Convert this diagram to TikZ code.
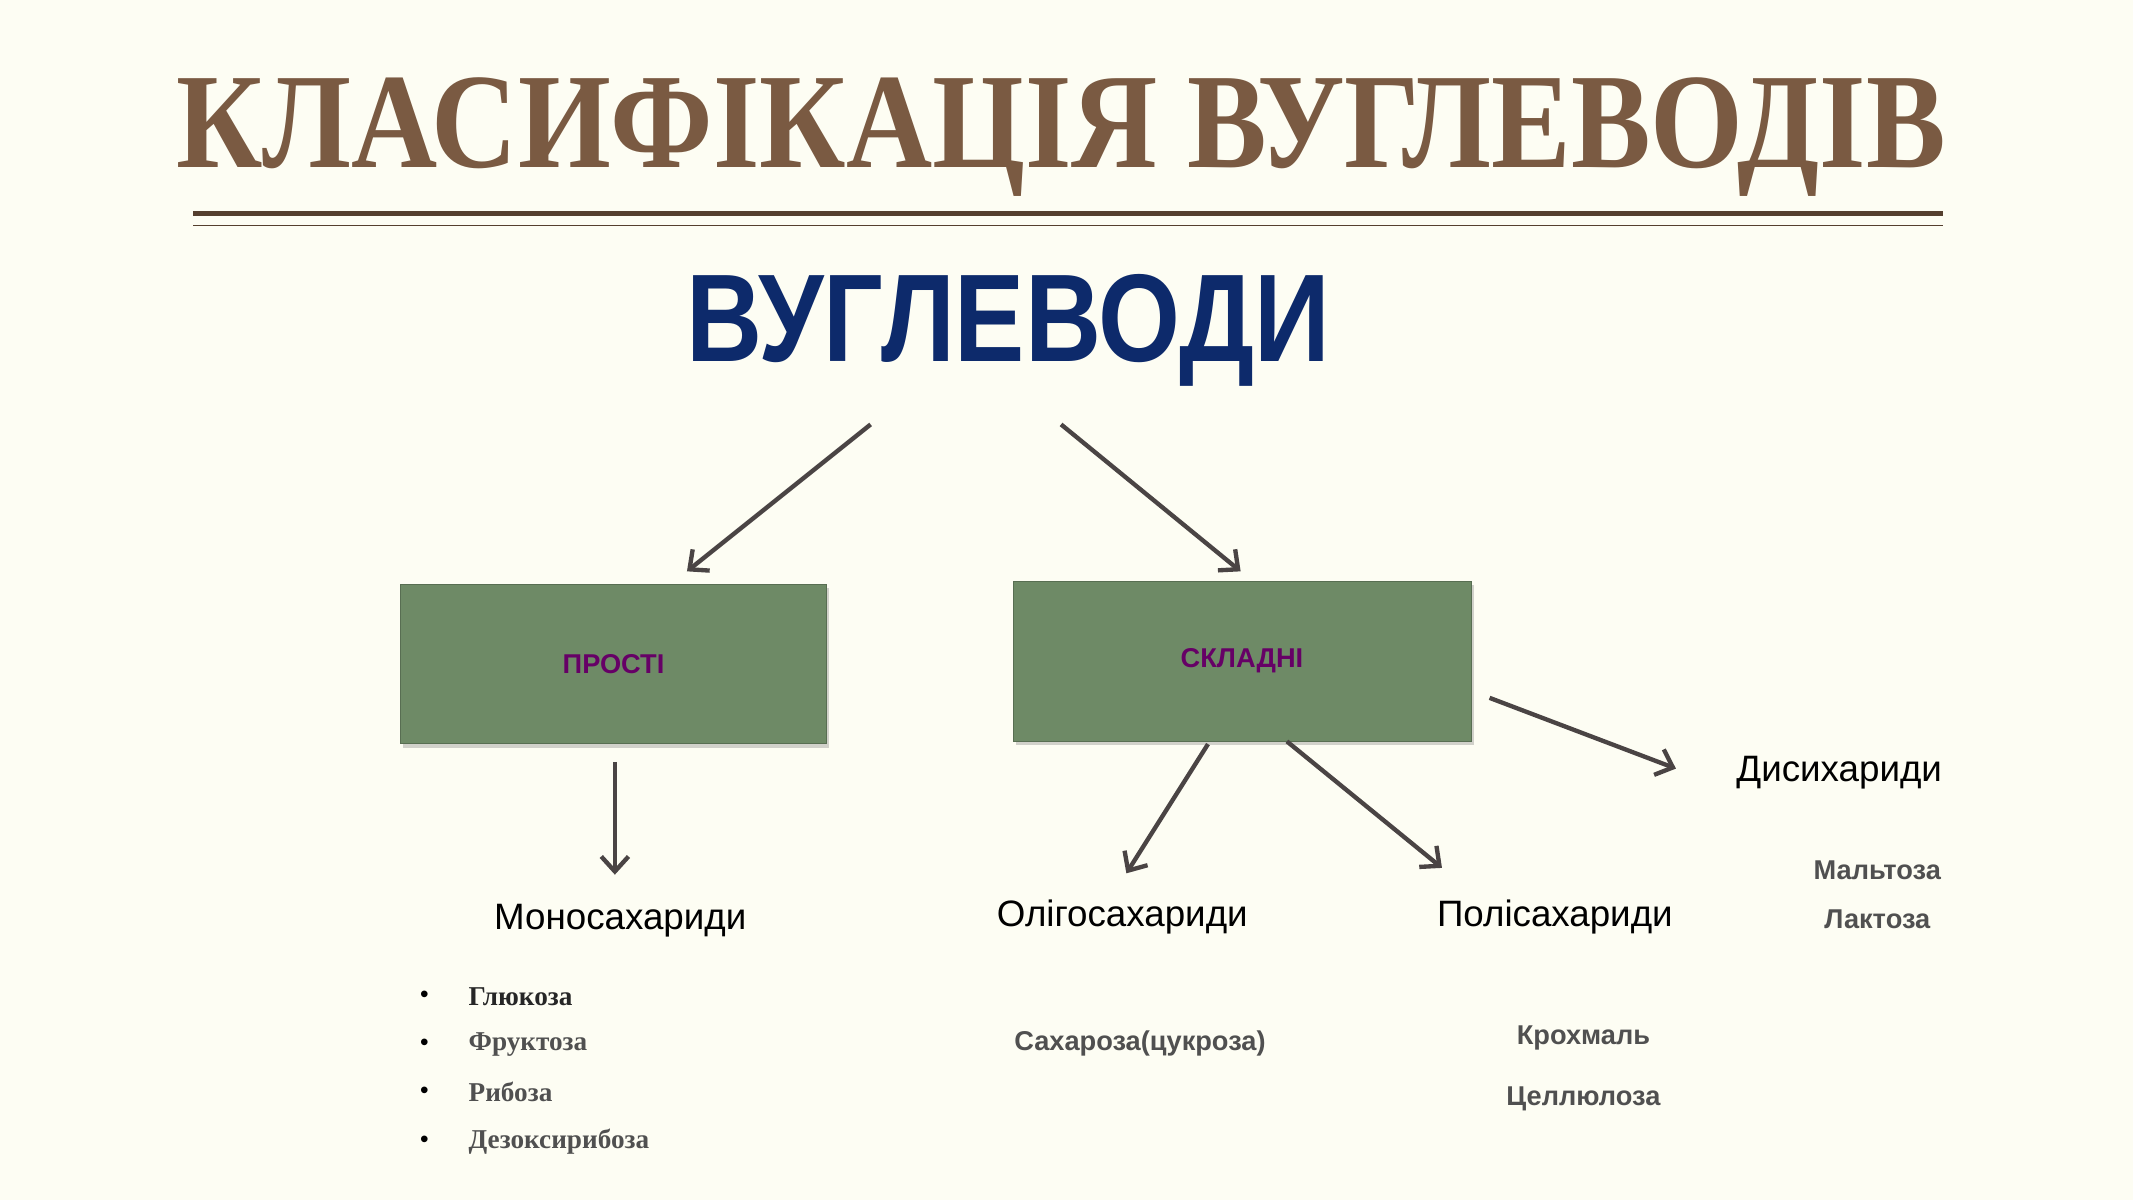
\documentclass[tikz,border=0pt]{standalone}
\usepackage{fontspec}
\setmainfont{Liberation Sans}
\newfontfamily\serifb{Liberation Serif}
\usetikzlibrary{arrows.meta,shadows}
\definecolor{bg}{HTML}{FDFDF3}
\definecolor{brownt}{HTML}{7A5A42}
\definecolor{navy}{HTML}{0D2A6B}
\definecolor{boxg}{HTML}{6E8A66}
\definecolor{purp}{HTML}{660066}
\definecolor{greyt}{HTML}{505050}
\definecolor{arr}{HTML}{4A4444}
\tikzset{
 conn/.style={draw=arr,line width=3.2pt,-{Straight Barb[length=11pt,width=20pt,line width=3.2pt]}},
 gbox/.style={draw=boxg!80!black,fill=boxg,minimum width=313pt,minimum height=117pt,drop shadow={opacity=0.35,shadow xshift=2pt,shadow yshift=-3pt},font=\bfseries\fontsize{20}{24}\selectfont,text=purp},
 cat/.style={font=\fontsize{27}{32}\selectfont,text=black},
 ex/.style={font=\bfseries\fontsize{20}{24}\selectfont,text=greyt},
 li/.style={font=\serifb\bfseries\fontsize{20}{24}\selectfont,anchor=west,text=greyt}
}
\begin{document}
\begin{tikzpicture}[x=1pt,y=-1pt]
\fill[bg] (0,0) rectangle (1568,882);
\useasboundingbox (0,0) rectangle (1568,882);
\node (title) at (780,101) {\resizebox{1300pt}{66pt}{\color{brownt}\serifb\bfseries КЛАСИФІКАЦІЯ ВУГЛЕВОДІВ}};
\draw[brownt!70!black,line width=4pt] (142,157) -- (1428,157);
\draw[brownt!70!black,line width=1pt] (142,166) -- (1428,166);
\node (root) at (741,243) {\resizebox{473pt}{64pt}{\color{navy}\bfseries ВУГЛЕВОДИ}};
\node[gbox] (prosti) at (451,488) {ПРОСТІ};
\node[gbox,minimum width=337pt,minimum height=118pt] (skl) at (913,486) {СКЛАДНІ};
\coordinate (r1) at (640,312); \coordinate (r1e) at (505,420);
\coordinate (r2) at (780,312); \coordinate (r2e) at (912,420);
\draw[conn] (r1) -- (r1e);
\draw[conn] (r2) -- (r2e);
\node[cat] (mono) at (456,677) {Моносахариди};
\node[cat] (oligo) at (825,674) {Олігосахариди};
\node[cat] (poli) at (1143,674) {Полісахариди};
\node[cat] (disi) at (1352,568) {Дисихариди};
\coordinate (a1) at (452,560); \coordinate (a1e) at (452,643);
\coordinate (a2) at (888,547); \coordinate (a2e) at (828,642);
\coordinate (a3) at (946,545); \coordinate (a3e) at (1060,638);
\coordinate (a4) at (1095,513); \coordinate (a4e) at (1232,565);
\draw[conn] (a1) -- (a1e);
\draw[conn] (a2) -- (a2e);
\draw[conn] (a3) -- (a3e);
\draw[conn] (a4) -- (a4e);
\node[ex] (malt) at (1380,640) {Мальтоза};
\node[ex] (lakt) at (1380,676) {Лактоза};
\node[ex] (sach) at (838,767) {Сахароза(цукроза)};
\node[ex] (kroch) at (1164,763) {Крохмаль};
\node[ex] (cell) at (1164,808) {Целлюлоза};
\foreach \t/\y/\c [count=\i] in {Глюкоза/733/black!85,Фруктоза/768/greyt,Рибоза/803/greyt,Дезоксирибоза/839/greyt}{
 \node[li,text=\c] (l\i) at (341,\y) {\t};
 \node[font=\fontsize{18}{20}\selectfont] (b\i) at (312,\y) {•};
}
\end{tikzpicture}
\end{document}
